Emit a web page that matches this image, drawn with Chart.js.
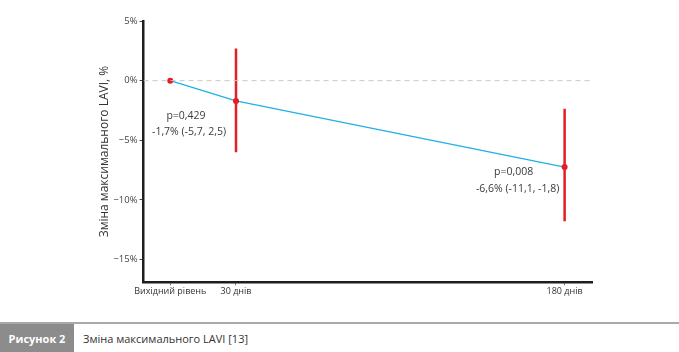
<!DOCTYPE html>
<html>
<head>
<meta charset="utf-8">
<script src="https://cdn.jsdelivr.net/npm/chart.js@4"></script>
<style>
  body { margin: 0; background: #fff; font-family: "Open Sans", sans-serif; }
  #wrap { position: relative; width: 679px; height: 322px; }
  #footer { position: absolute; top: 322px; left: 0; width: 679px; height: 30px; border-top: 2px solid #a9a9a9; }
  #fig { position: absolute; left: 0; top: 0; width: 74px; height: 30px; background: #8c8c8c; color: #fff; font-weight: bold; font-size: 11px; line-height: 30px; text-align: center; }
  #cap { position: absolute; left: 83px; top: 0; line-height: 30px; font-size: 11px; color: #333; }
</style>
</head>
<body>
<div id="wrap"><canvas id="chart" width="679" height="322"></canvas></div>
<div id="footer"><div id="fig">Рисунок 2</div><div id="cap">Зміна максимального LAVI [13]</div></div>
<script>
// дані
var days = [0, 30, 180];
var dayLabels = ['Вихідний рівень', '30 днів', '180 днів'];
var change = [0, -1.7, -7.25];
var ciLow = [null, -6.0, -11.8];
var ciHigh = [null, 2.7, -2.35];
var pLabels = [null, 'p=0,429', 'p=0,008'];
var ciLabels = [null, '-1,7% (-5,7, 2,5)', '-6,6% (-11,1, -1,8)'];
var yTicks = [5, 0, -5, -10, -15];

var red = '#e31e24';
var datasets = [];

// лінія нуля
datasets.push({
    data: [{x: -12.2, y: 0}, {x: 192.5, y: 0}],
    borderColor: '#c8c8c8',
    borderWidth: 1,
    borderDash: [5, 4],
    pointRadius: 0
});

// довірчі інтервали
for (var i = 0; i < days.length; i++) {
    if (ciLow[i] === null) continue;
    datasets.push({
        data: [{x: days[i], y: ciLow[i]}, {x: days[i], y: ciHigh[i]}],
        borderColor: red,
        borderWidth: 2.5,
        pointRadius: 0
    });
}

datasets.push({
    data: days.map(function(d, i) { return {x: d, y: change[i]}; }),
    borderColor: '#1fb1e6',
    borderWidth: 1.3,
    pointRadius: 3,
    pointBackgroundColor: red,
    pointBorderWidth: 0,
    tension: 0
});

var labelsPlugin = {
    id: 'labels',
    afterDatasetsDraw: function(chart) {
        var ctx = chart.ctx, xs = chart.scales.x, ys = chart.scales.y;
        ctx.save();
        ctx.fillStyle = '#3b3b3b';
        ctx.font = '10.5px "Open Sans", sans-serif';
        ctx.textAlign = 'center';
        ctx.textBaseline = 'middle';
        var off = [null, [-50, 15, -47, 31], [-51, 5, -47, 22]];
        for (var i = 0; i < days.length; i++) {
            if (!pLabels[i]) continue;
            var px = xs.getPixelForValue(days[i]);
            var py = ys.getPixelForValue(change[i]);
            ctx.fillText(pLabels[i], px + off[i][0], py + off[i][1]);
            ctx.fillText(ciLabels[i], px + off[i][2], py + off[i][3]);
        }
        ctx.restore();
    }
};

new Chart(document.getElementById('chart'), {
    type: 'line',
    data: { datasets: datasets },
    plugins: [labelsPlugin],
    options: {
        responsive: false,
        animation: false,
        layout: { padding: { top: 21, right: 87, left: 97, bottom: 24 } },
        plugins: { legend: { display: false }, tooltip: { enabled: false } },
        scales: {
            x: {
                type: 'linear',
                min: -12.2,
                max: 192.5,
                afterBuildTicks: function(s) { s.ticks = days.map(function(d) { return {value: d}; }); },
                ticks: {
                    autoSkip: false,
                    maxRotation: 0,
                    padding: 1,
                    color: '#333',
                    font: { family: 'Open Sans', size: 9 },
                    callback: function(v) { return dayLabels[days.indexOf(v)]; }
                },
                grid: { drawOnChartArea: false, tickLength: 3, color: '#666' },
                border: { color: '#1e1e1e', width: 2.5 }
            },
            y: {
                min: -16.9,
                max: 5,
                afterBuildTicks: function(s) { s.ticks = yTicks.map(function(v) { return {value: v}; }); },
                ticks: {
                    padding: 2,
                    color: '#444',
                    font: { family: 'Open Sans', size: 9.5 },
                    callback: function(v) { return (v < 0 ? '\u2212' + Math.abs(v) : v) + '%'; }
                },
                grid: { drawOnChartArea: false, tickLength: 4, color: '#444' },
                border: { color: '#1e1e1e', width: 2.5 },
                title: {
                    display: true,
                    text: 'Зміна максимального LAVI, %',
                    color: '#333',
                    font: { family: 'Open Sans', size: 12 },
                    padding: { top: 0, bottom: 0 }
                }
            }
        }
    }
});
</script>
</body>
</html>
